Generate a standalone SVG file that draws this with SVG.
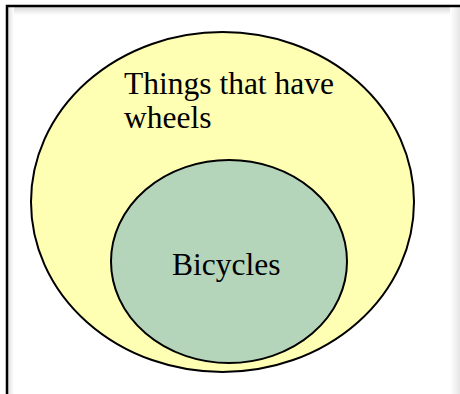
<svg xmlns="http://www.w3.org/2000/svg" width="460" height="394" viewBox="0 0 460 394">
<defs>
<linearGradient id="sh" x1="0" y1="0" x2="0" y2="1">
<stop offset="0" stop-color="#d8d8d8"/><stop offset="1" stop-color="#ffffff"/>
</linearGradient>
<linearGradient id="shl" x1="0" y1="0" x2="1" y2="0">
<stop offset="0" stop-color="#e0e0e0"/><stop offset="1" stop-color="#ffffff"/>
</linearGradient>
<linearGradient id="shr" x1="0" y1="0" x2="1" y2="0">
<stop offset="0" stop-color="#ffffff"/><stop offset="1" stop-color="#e6e6e6"/>
</linearGradient>
</defs>
<style>
.lbl{font-family:"Liberation Serif","Times New Roman",serif;font-size:31.5px;fill:#000}
.set{stroke:#000;stroke-width:2}
</style>
<rect width="460" height="394" fill="#fff"/>
<rect x="8" y="7" width="452" height="8" fill="url(#sh)"/>
<rect x="8" y="7" width="6" height="387" fill="url(#shl)"/>
<rect x="450" y="7" width="10" height="387" fill="url(#shr)"/>
<path d="M7,394 V6 H460" fill="none" stroke="#000" stroke-width="2.5"/>
<g id="wheels">
<ellipse class="set" cx="222.5" cy="202" rx="191.5" ry="170" fill="#ffffb3"/>
<text class="lbl" x="124" y="94">Things that have</text>
<text class="lbl" x="124" y="128">wheels</text>
</g>
<g id="bicycles">
<ellipse class="set" cx="229" cy="261.5" rx="118" ry="101.5" fill="#b5d5bb"/>
<text class="lbl" x="172" y="275">Bicycles</text>
</g>
<g id="connectors"/>
</svg>
